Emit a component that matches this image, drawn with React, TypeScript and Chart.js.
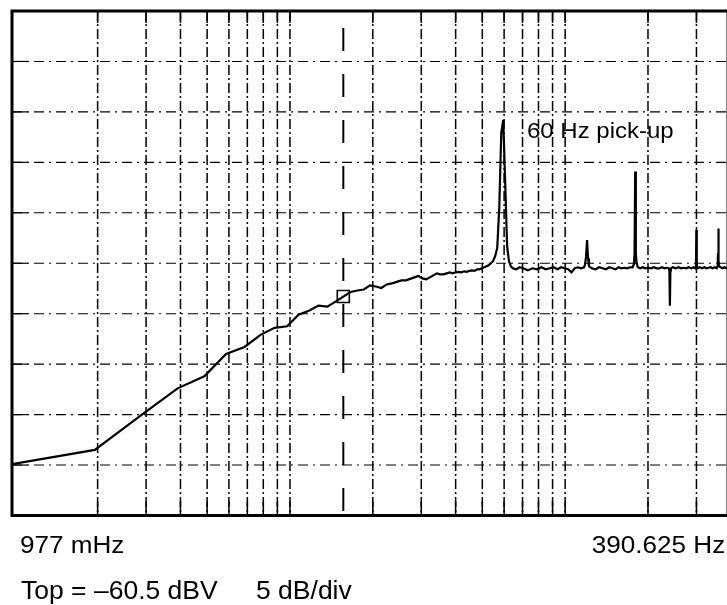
import React, { useEffect, useRef } from "react";
import { Chart, registerables } from "chart.js";

Chart.register(...registerables);

// Spectrum analyser trace: FFT bin frequencies (Hz) and measured level (dBV)
const FREQ_HZ = [
  0.977, 1.953, 2.93, 3.906, 4.883, 5.859, 6.836, 7.813, 8.789, 9.766,
  10.742, 11.719, 12.695, 13.672, 14.648, 15.625, 16.602, 17.578, 18.555, 19.531,
  20.508, 21.484, 22.461, 23.438, 24.414, 25.391, 26.367, 27.344, 28.32, 29.297,
  30.273, 31.25, 32.227, 33.203, 34.18, 35.156, 36.133, 37.109, 38.086, 39.063,
  40.039, 41.016, 41.992, 42.969, 43.945, 44.922, 45.898, 46.875, 47.852, 48.828,
  49.805, 50.781, 51.758, 52.734, 53.711, 54.688, 55.664, 56.641, 57.617, 58.594,
  59.57, 60.547, 61.523, 62.5, 63.477, 64.453,
  66.406, 68.359, 70.313, 73.242, 76.172, 79.102, 82.031, 84.961, 87.891, 90.82,
  93.75, 96.68, 99.609, 102.539, 105.469, 108.398, 111.328, 114.258, 117.188, 118.164,
  119.141, 120.117, 121.094, 122.07, 125.0, 128.906, 132.813, 136.719, 140.625, 144.531,
  148.438, 152.344, 156.25, 160.156, 164.063, 167.969, 171.875, 175.781, 177.734, 178.711,
  179.688, 180.664, 181.641, 183.594, 187.5, 191.406, 195.313, 200.195, 205.078, 209.961,
  214.844, 219.727, 224.609, 229.492, 234.375, 238.281, 239.258, 240.234, 241.211, 242.188,
  246.094, 251.953, 257.813, 263.672, 269.531, 275.391, 281.25, 287.109, 292.969, 296.875,
  298.828, 299.805, 300.781, 302.734, 308.594, 314.453, 320.313, 326.172, 332.031, 337.891,
  343.75, 349.609, 355.469, 358.398, 359.375, 360.352, 361.328, 362.305, 367.188, 373.047,
  378.906, 384.766, 390.625,
];

const LEVEL_DBV = [
  -105.4, -104.0, -100.4, -97.9, -96.7, -94.5, -93.8, -92.6, -91.9, -91.75,
  -90.6, -90.2, -89.7, -89.8, -89.3, -88.8, -88.35, -88.2, -88.1, -87.7,
  -87.8, -87.95, -87.6, -87.5, -87.35, -87.2, -87.2, -87.05, -86.9, -86.75,
  -87.0, -87.1, -86.9, -86.7, -86.5, -86.6, -86.6, -86.5, -86.4, -86.5,
  -86.4, -86.35, -86.4, -86.3, -86.35, -86.25, -86.2, -86.25, -86.1, -86.1,
  -86.0, -85.9, -85.8, -85.7, -85.5, -85.3, -84.8, -84.0, -80.0, -72.6,
  -71.3, -77.5, -83.8, -85.3, -85.8, -86.0,
  -86.1, -85.9, -86.0, -86.2, -86.0, -86.1, -85.9, -86.1, -86.0, -85.9,
  -86.1, -85.9, -86.0, -86.1, -86.4, -86.0, -85.9, -86.0, -85.9, -85.6,
  -84.8, -83.2, -85.0, -85.8, -86.0, -86.1, -85.9, -86.0, -86.1, -85.9,
  -86.0, -86.1, -85.9, -86.0, -85.95, -86.0, -85.9, -85.9, -85.6, -84.6,
  -76.4, -84.5, -85.4, -85.9, -86.0, -85.9, -86.0, -85.95, -86.0, -85.9,
  -86.0, -86.0, -85.9, -86.0, -85.95, -86.0, -86.3, -89.7, -86.2, -86.0,
  -85.9, -86.0, -85.9, -86.0, -85.95, -86.0, -85.9, -86.0, -85.9, -86.0,
  -85.6, -82.2, -85.7, -86.0, -85.9, -86.0, -85.9, -86.0, -85.95, -85.9,
  -86.0, -85.9, -86.0, -85.7, -84.5, -82.05, -85.2, -85.8, -85.9, -86.0,
  -85.9, -86.0, -85.9,
];

// Marker readout position
const MARKER_HZ = [15.625];
const MARKER_DBV = [-88.8];

// Display span and graticule
const START_HZ = 0.977;
const STOP_HZ = 390.625;
const TOP_DBV = -60.5;
const BOTTOM_DBV = -110.5;
const GRID_FREQS = [2, 3, 4, 5, 6, 7, 8, 9, 10, 20, 30, 40, 50, 60, 70, 80, 90, 100, 200, 300];
const GRID_LEVELS = [-65.5, -70.5, -75.5, -80.5, -85.5, -90.5, -95.5, -100.5, -105.5];

const FONT = '"Liberation Sans", Arial, Helvetica, sans-serif';

const graticule = {
  id: "graticule",
  beforeDatasetsDraw(chart: any) {
    const { ctx, chartArea: a, scales } = chart;
    const xs = scales.x;
    const ys = scales.y;
    ctx.save();
    ctx.strokeStyle = "#000";

    // horizontal dash-dot divisions
    ctx.lineWidth = 1.1;
    ctx.setLineDash([10, 5, 2, 5]);
    for (const lv of GRID_LEVELS) {
      const y = ys.getPixelForValue(lv);
      ctx.beginPath();
      ctx.moveTo(a.left, y);
      ctx.lineTo(a.right, y);
      ctx.stroke();
    }

    // vertical log-frequency lines
    ctx.lineWidth = 1.5;
    ctx.setLineDash([10, 3, 2, 3]);
    for (const f of GRID_FREQS) {
      const x = xs.getPixelForValue(f);
      ctx.beginPath();
      ctx.moveTo(x, a.top);
      ctx.lineTo(x, a.bottom);
      ctx.stroke();
    }

    // solid tick stubs at the frame edges
    ctx.setLineDash([]);
    ctx.lineWidth = 1.5;
    for (const f of GRID_FREQS) {
      const x = xs.getPixelForValue(f);
      ctx.beginPath();
      ctx.moveTo(x, a.bottom);
      ctx.lineTo(x, a.bottom - 14);
      ctx.moveTo(x, a.top);
      ctx.lineTo(x, a.top + 12);
      ctx.stroke();
    }
    ctx.lineWidth = 1.2;
    for (const lv of GRID_LEVELS) {
      const y = ys.getPixelForValue(lv);
      ctx.beginPath();
      ctx.moveTo(a.left, y);
      ctx.lineTo(a.left + 16, y);
      ctx.stroke();
    }

    // marker cursor
    const mx = xs.getPixelForValue(MARKER_HZ[0]);
    ctx.lineWidth = 2;
    ctx.setLineDash([23, 23]);
    ctx.lineDashOffset = 29;
    ctx.beginPath();
    ctx.moveTo(mx, a.top);
    ctx.lineTo(mx, a.bottom);
    ctx.stroke();
    ctx.restore();
  },
  afterDatasetsDraw(chart: any) {
    const { ctx, chartArea: a } = chart;
    ctx.save();
    ctx.strokeStyle = "#000";
    ctx.lineWidth = 3;
    ctx.setLineDash([]);
    ctx.strokeRect(a.left, a.top, a.right - a.left, a.bottom - a.top);
    ctx.restore();
  },
};

const labelStyle = (size: number, sx: number, origin: string): React.CSSProperties => ({
  position: "absolute",
  fontFamily: FONT,
  fontSize: size,
  lineHeight: 1,
  whiteSpace: "nowrap",
  color: "#000",
  transform: `scaleX(${sx})`,
  transformOrigin: origin,
});

export default function App() {
  const canvasRef = useRef<HTMLCanvasElement | null>(null);

  useEffect(() => {
    const canvas = canvasRef.current;
    if (!canvas) return;
    const chart = new Chart(canvas, {
      type: "line",
      data: {
        datasets: [
          {
            label: "Spectrum",
            data: FREQ_HZ.map((f, i) => ({ x: f, y: LEVEL_DBV[i] })),
            borderColor: "#000",
            borderWidth: 2.2,
            pointRadius: 0,
            tension: 0,
            fill: false,
          },
          {
            label: "Marker",
            data: MARKER_HZ.map((f, i) => ({ x: f, y: MARKER_DBV[i] })),
            showLine: false,
            pointStyle: "rect",
            pointRadius: 8.5,
            pointBorderWidth: 1.6,
            pointBorderColor: "#000",
            pointBackgroundColor: "rgba(0,0,0,0)",
          },
        ],
      },
      options: {
        responsive: false,
        animation: false,
        devicePixelRatio: 1,
        events: [],
        layout: { padding: { left: 12, right: 12, top: 11, bottom: 89.5 } },
        plugins: { legend: { display: false }, tooltip: { enabled: false } },
        scales: {
          x: { type: "logarithmic", min: START_HZ, max: STOP_HZ, display: false },
          y: { type: "linear", min: BOTTOM_DBV, max: TOP_DBV, display: false },
        },
      },
      plugins: [graticule],
    } as any);
    return () => chart.destroy();
  }, []);

  return (
    <div
      style={{
        position: "fixed",
        left: 0,
        top: 0,
        width: 727,
        height: 605,
        overflow: "hidden",
        background: "#fff",
      }}
    >
      <canvas
        ref={canvasRef}
        width={740}
        height={605}
        style={{ position: "absolute", left: 0, top: 0, width: 740, height: 605 }}
      />
      <span style={{ ...labelStyle(22, 1.09, "left"), left: 527, top: 119.7 }}>60 Hz pick-up</span>
      <span style={{ ...labelStyle(23.5, 1.11, "left"), left: 20, top: 534.2 }}>977 mHz</span>
      <span style={{ ...labelStyle(23.5, 1.11, "right"), right: 2, top: 534.2 }}>390.625 Hz</span>
      <span style={{ ...labelStyle(25, 1.06, "left"), left: 21, top: 578.2 }}>Top = –60.5 dBV</span>
      <span style={{ ...labelStyle(25, 1.06, "left"), left: 256, top: 578.2 }}>5 dB/div</span>
    </div>
  );
}
